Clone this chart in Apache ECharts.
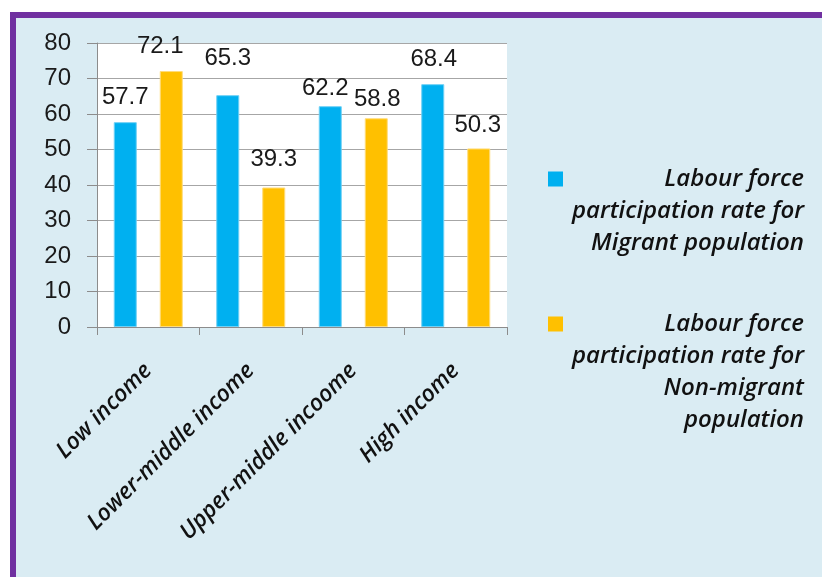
<!DOCTYPE html>
<html>
<head>
<meta charset="utf-8">
<script src="https://cdn.jsdelivr.net/npm/echarts@6/dist/echarts.min.js"></script>
<style>
  html, body { margin: 0; padding: 0; background: #ffffff; }
  #frame {
    position: absolute; left: 10px; top: 12px; width: 830px; height: 580px;
    background: #DAECF3; border-top: 6px solid #7030A0; border-left: 6px solid #7030A0;
  }
  #chart { position: absolute; left: 0; top: 0; width: 822px; height: 577px; }
</style>
</head>
<body>
<div id="frame"></div>
<div id="chart"></div>
<script>
// Income groups on the category axis
const categories = ['Low income', 'Lower-middle income', 'Upper-middle incoome', 'High income'];
// Labour force participation rates (%)
const migrantRates = [57.7, 65.3, 62.2, 68.4];
const nonMigrantRates = [72.1, 39.3, 58.8, 50.3];
// Value axis ticks
const yTicks = [0, 10, 20, 30, 40, 50, 60, 70, 80];

const seriesNames = [
  'Labour force participation rate for Migrant population',
  'Labour force participation rate for Non-migrant population'
];
const seriesColors = ['#00B0F0', '#FFC000'];
const legendLines = [
  ['Labour force', 'participation rate for', 'Migrant population'],
  ['Labour force', 'participation rate for', 'Non-migrant', 'population']
];

// Per-bar label nudges [dx, dy] for the value labels
const migrantLabelShift = [[0, -8], [0, -20], [-5, -1], [1, -8]];
const nonMigrantLabelShift = [[-11, -8], [0, -11], [1, -2], [-1, -6]];

const labelFont = {
  fontFamily: '"Liberation Sans", Arial, sans-serif',
  fontSize: 24,
  color: '#1a1a1a'
};

const italicFont = {
  fontFamily: '"Open Sans", Lato, sans-serif',
  fontStyle: 'italic',
  fontWeight: 600
};

function barData(values, shifts) {
  return values.map((v, i) => ({
    value: v,
    label: { offset: shifts[i] }
  }));
}

const chart = echarts.init(document.getElementById('chart'), null, { renderer: 'canvas' });

const legendRich = {
  t: Object.assign({ fontSize: 24, lineHeight: 32, color: '#111', align: 'right' }, italicFont),
  s0: { width: 15, height: 15, backgroundColor: seriesColors[0], align: 'left', lineHeight: 32 },
  s1: { width: 15, height: 15, backgroundColor: seriesColors[1], align: 'left', lineHeight: 32 }
};

chart.setOption({
  backgroundColor: 'transparent',
  animation: false,
  grid: {
    left: 97, top: 43, width: 410, height: 284,
    show: true, backgroundColor: '#ffffff', borderWidth: 0
  },
  legend: {
    orient: 'vertical',
    left: 538,
    top: 162,
    itemWidth: 0,
    itemHeight: 0,
    itemGap: 57,
    icon: 'none',
    selectedMode: false,
    data: seriesNames,
    textStyle: { width: 256, rich: legendRich },
    formatter: function (name) {
      const k = seriesNames.indexOf(name);
      const lines = legendLines[k];
      return lines.map((ln, j) => (j === 0 ? '{s' + k + '|}' : '') + '{t|' + ln + '}').join('\n');
    }
  },
  xAxis: {
    type: 'category',
    data: categories,
    axisLine: { show: true, lineStyle: { color: '#8c8c8c', width: 1 } },
    axisTick: { show: true, length: 8, lineStyle: { color: '#8c8c8c' } },
    axisLabel: Object.assign({
      rotate: 45,
      margin: 40,
      interval: 0,
      fontSize: 23,
      color: '#111'
    }, italicFont),
    splitLine: { show: false }
  },
  yAxis: {
    type: 'value',
    min: yTicks[0],
    max: yTicks[yTicks.length - 1],
    interval: yTicks[1] - yTicks[0],
    axisLine: { show: true, lineStyle: { color: '#8c8c8c', width: 1 } },
    axisTick: { show: true, length: 10, lineStyle: { color: '#8c8c8c' } },
    axisLabel: {
      margin: 26,
      fontFamily: '"Liberation Sans", Arial, sans-serif',
      fontSize: 24,
      color: '#1a1a1a'
    },
    splitLine: { show: true, lineStyle: { color: '#a6a6a6', width: 1 } }
  },
  series: [
    {
      name: seriesNames[0],
      type: 'bar',
      data: barData(migrantRates, migrantLabelShift),
      barWidth: 23,
      barGap: '100%',
      itemStyle: { color: seriesColors[0], borderColor: '#6fd0f5', borderWidth: 1 },
      label: Object.assign({ show: true, position: 'top', distance: 5 }, labelFont)
    },
    {
      name: seriesNames[1],
      type: 'bar',
      data: barData(nonMigrantRates, nonMigrantLabelShift),
      barWidth: 23,
      barGap: '100%',
      itemStyle: { color: seriesColors[1], borderColor: '#ffdc7a', borderWidth: 1 },
      label: Object.assign({ show: true, position: 'top', distance: 5 }, labelFont)
    }
  ]
});
</script>
</body>
</html>
